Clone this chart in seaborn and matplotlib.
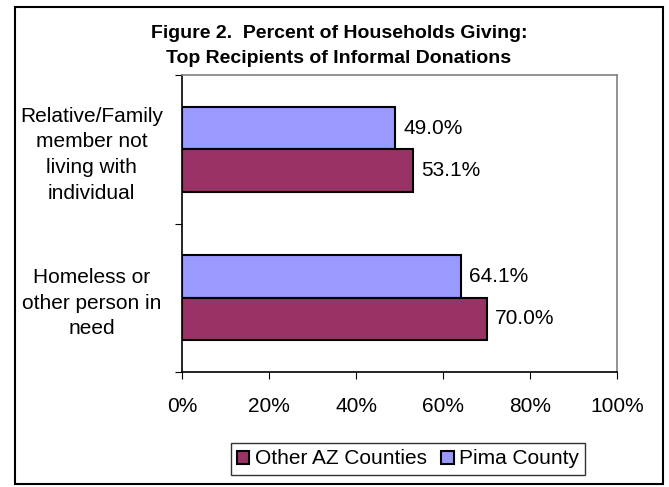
import matplotlib
matplotlib.use('Agg')
import matplotlib.pyplot as plt
import seaborn as sns
import pandas as pd
from matplotlib.patches import Rectangle, Patch

categories = ['Relative/Family\nmember not\nliving with\nindividual',
              'Homeless or\nother person in\nneed']
pima = [49.0, 64.1]
other_az = [53.1, 70.0]
series = ['Other AZ Counties', 'Pima County']
colors = {'Other AZ Counties': '#993366', 'Pima County': '#9999FF'}

df = pd.DataFrame({
    'category': categories * 2,
    'value': other_az + pima,
    'series': ['Other AZ Counties'] * 2 + ['Pima County'] * 2,
})

sns.set_style('white')
plt.rcParams['font.family'] = ['Liberation Sans', 'DejaVu Sans']
plt.rcParams['text.color'] = 'black'
plt.rcParams['xtick.color'] = 'black'
plt.rcParams['ytick.color'] = 'black'

fig = plt.figure(figsize=(6.69, 4.87), dpi=100)
ax = fig.add_axes([182 / 669, 1 - 372 / 487, (617 - 182) / 669, (372 - 75) / 487])

sns.barplot(data=df, y='category', x='value', hue='series',
            hue_order=['Pima County', 'Other AZ Counties'], order=categories,
            palette=colors, orient='h', width=0.57, edgecolor='black',
            linewidth=1.5, saturation=1, ax=ax, legend=False)

for container in ax.containers:
    ax.bar_label(container, labels=[f'{v:.1f}%' for v in container.datavalues],
                 padding=6, fontsize=15)

ax.set_xlim(0, 100)
ax.set_ylim(1.5, -0.5)
ax.set_xticks([0, 20, 40, 60, 80, 100])
ax.set_xticklabels([f'{t}%' for t in [0, 20, 40, 60, 80, 100]], fontsize=15)
ax.set_yticks([-0.5, 0.5, 1.5], minor=False)
ax.set_yticklabels([])
ax.set_yticks([0, 1], minor=True)
ax.set_yticklabels(categories, minor=True, fontsize=15, ha='center', multialignment='center')
for lab in ax.get_yticklabels(minor=True):
    lab.set_linespacing(1.45)
ax.tick_params(axis='y', which='minor', length=0, pad=65)
ax.tick_params(axis='y', which='major', length=5, direction='out', left=True)
ax.tick_params(axis='x', length=5, direction='out', bottom=True, pad=13)
ax.set_xlabel('')
ax.set_ylabel('')
for side in ['left', 'bottom']:
    ax.spines[side].set_color('black')
    ax.spines[side].set_linewidth(1.2)
for side in ['top', 'right']:
    ax.spines[side].set_color('#808080')
    ax.spines[side].set_linewidth(1.2)

fig.text(0.5 * (15 + 663) / 669, 1 - 46 / 487,
         'Figure 2.  Percent of Households Giving:\nTop Recipients of Informal Donations',
         ha='center', va='center', fontsize=14, fontweight='bold', linespacing=1.6)

handles = [Patch(facecolor=colors[s], edgecolor='black', linewidth=1.5) for s in series]
leg = fig.legend(handles, series, loc='center', ncol=2,
                 bbox_to_anchor=(408 / 669, 1 - 459 / 487), fontsize=15,
                 frameon=True, fancybox=False, edgecolor='black',
                 handlelength=0.6, handleheight=0.6, handletextpad=0.25,
                 columnspacing=0.7, borderpad=0.3, borderaxespad=0)
leg.get_frame().set_linewidth(1.0)

fig.patches.append(Rectangle((15 / 669, 1 - 484 / 487), (663 - 15) / 669, (484 - 7) / 487,
                             transform=fig.transFigure, fill=False,
                             edgecolor='black', linewidth=1.5))

fig.savefig('out.png', dpi=100)
